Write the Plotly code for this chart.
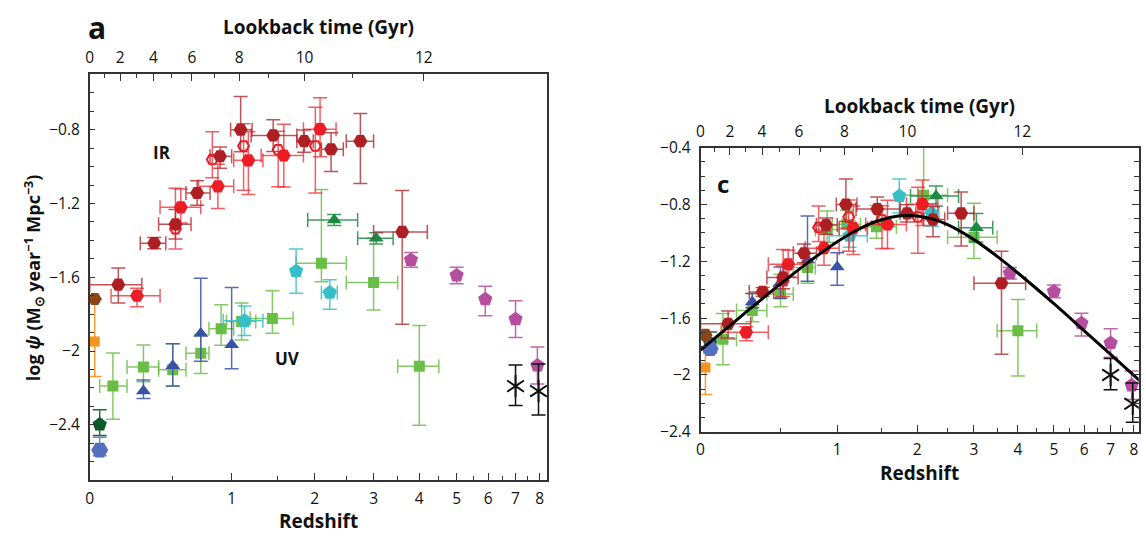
import numpy as np
import plotly.graph_objects as go

# ---------------- data (redshift z, log psi) ----------------
# IR - dark red filled hexagons
dr_z   = [0.15, 0.37, 0.52, 0.69, 0.89, 1.09, 1.45, 1.85, 2.25, 2.75, 3.6]
dr_v   = [-1.64, -1.415, -1.313, -1.143, -0.944, -0.80, -0.831, -0.862, -0.906, -0.862, -1.354]
dr_ep  = [0.09, 0.03, 0.08, 0.066, 0.05, 0.18, 0.085, 0.06, 0.09, 0.15, 0.225]
dr_em  = [0.10, 0.03, 0.08, 0.066, 0.065, 0.12, 0.087, 0.06, 0.12, 0.23, 0.50]
dr_zlo = [0.0, 0.28, 0.40, 0.60, 0.80, 0.99, 1.20, 1.75, 2.10, 2.50, 3.0]
dr_zhi = [0.29, 0.45, 0.64, 0.80, 1.00, 1.21, 1.75, 1.98, 2.45, 3.0, 4.2]

# IR - red filled hexagons
r_z   = [0.26, 0.56, 0.87, 1.17, 1.58, 2.08]
r_v   = [-1.70, -1.221, -1.107, -0.966, -0.94, -0.797]
r_ep  = [0.04, 0.10, 0.12, 0.155, 0.17, 0.17]
r_em  = [0.06, 0.085, 0.12, 0.185, 0.17, 0.15]
r_zlo = [0.11, 0.41, 0.70, 1.02, 1.31, 1.84]
r_zhi = [0.41, 0.72, 1.02, 1.33, 1.84, 2.33]

# IR - red open hexagons
hr_z  = [0.52, 0.82, 1.12, 1.51, 2.01]
hr_v  = [-1.337, -0.961, -0.888, -0.909, -0.888]
hr_ep = [0.22, 0.15, 0.12, 0.10, 0.21]
hr_em = [0.11, 0.10, 0.24, 0.20, 0.255]

# UV - light green squares (a: uncorrected, c: dust corrected)
lg_z   = [0.12, 0.30, 0.50, 0.72, 0.90, 1.10, 1.44, 2.10, 3.00, 4.00]
lg_va  = [-2.19, -2.087, -2.101, -2.012, -1.879, -1.84, -1.823, -1.524, -1.628, -2.082]
lg_vc  = [-1.748, -1.546, -1.43, -1.244, -0.975, -0.94, -0.957, -0.735, -1.03, -1.688]
lg_ep  = [0.18, 0.12, 0.14, 0.10, 0.13, 0.10, 0.15, 0.40, 0.24, 0.22]
lg_em  = [0.18, 0.08, 0.09, 0.11, 0.09, 0.10, 0.08, 0.10, 0.15, 0.32]
lg_zlo = [0.05, 0.20, 0.40, 0.60, 0.79, 0.95, 1.19, 1.74, 2.50, 3.50]
lg_zhi = [0.20, 0.40, 0.60, 0.79, 1.02, 1.25, 1.70, 2.50, 3.50, 4.50]

# UV - blue triangles
bt_z    = [0.30, 0.50, 0.72, 1.00]
bt_va   = [-2.217, -2.08, -1.905, -1.966]
bt_vc   = [-1.486, -1.35, -1.19, -1.239]
bt_ep   = [0.06, 0.12, 0.30, 0.31]
bt_em   = [0.04, 0.11, 0.15, 0.13]
bt_ep_c = [0.06, 0.11, 0.31, 0.10]
bt_em_c = [0.04, 0.11, 0.15, 0.13]

# UV - cyan pentagons
cy_z   = [1.13, 1.74, 2.23]
cy_va  = [-1.836, -1.567, -1.683]
cy_vc  = [-1.02, -0.74, -0.863]
cy_ep  = [0.08, 0.12, 0.07]
cy_em  = [0.08, 0.12, 0.09]
cy_zlo = [0.92, 1.74, 2.10]
cy_zhi = [1.33, 1.74, 2.35]

# UV - dark green triangles
dg_z    = [2.30, 3.05]
dg_va   = [-1.29, -1.389]
dg_vc   = [-0.74, -0.963]
dg_ep   = [0.03, 0.03]
dg_ep_c = [0.07, 0.10]
dg_zlo  = [1.90, 2.70]
dg_zhi  = [2.70, 3.40]

# UV - magenta pentagons
mg_z   = [3.8, 5.0, 5.9, 7.0, 7.9]
mg_va  = [-1.506, -1.59, -1.719, -1.827, -2.078]
mg_vc  = [-1.284, -1.412, -1.636, -1.775, -2.073]
mg_ep  = [0.04, 0.045, 0.07, 0.10, 0.10]
mg_em  = [0.04, 0.045, 0.09, 0.10, 0.10]

# UV - black stars
bk_z    = [7.0, 7.95]
bk_va   = [-2.19, -2.217]
bk_vc   = [-2.0, -2.203]
bk_ep   = [0.115, 0.147]
bk_em   = [0.105, 0.13]

# local points
br_z, br_v = [0.025], [-1.718]
or_z, or_v, or_ep, or_em = [0.025], [-1.948], [0.23], [0.19]
gp_z, gp_va, gp_vc, gp_ep, gp_em = [0.05], [-2.398], [-1.777], [0.08], [0.06]
bh_z, bh_va, bh_vc, bh_ep, bh_em = [0.05], [-2.537], [-1.815], [0.07], [0.03]

# best-fit curve (panel c)
fit_z = [0, 0.1, 0.25, 0.5, 0.75, 1.0, 1.25, 1.5, 1.75, 2.0, 2.25, 2.5, 3.0, 3.5, 4.0, 5.0, 6.0, 7.0, 8.0, 8.3]
fit_v = [-1.825, -1.714, -1.566, -1.359, -1.193, -1.062, -0.967, -0.907, -0.879, -0.880, -0.903,
         -0.942, -1.047, -1.165, -1.282, -1.498, -1.689, -1.855, -2.003, -2.044]

z_ticks = [0, 1, 2, 3, 4, 5, 6, 7, 8]
z_minor = [0.5, 1.5, 2.5, 3.5, 4.5, 5.5, 6.5, 7.5]
t_major = [0, 2, 4, 6, 8, 10, 12]
t_minor = [1, 3, 5, 7, 9, 11]
ya_ticks = [-0.8, -1.2, -1.6, -2.0, -2.4]
yc_ticks = [-0.4, -0.8, -1.2, -1.6, -2.0, -2.4]

# ---------------- helpers ----------------
FONT = "Open Sans"
AX = "#333333"


def lx(z):
    return np.log10(1 + np.asarray(z, dtype=float))


# lookback time -> redshift (H0=70, Om=0.3, OL=0.7)
zz = np.linspace(0, 15, 150001)
integ = 1.0 / ((1 + zz) * np.sqrt(0.3 * (1 + zz) ** 3 + 0.7))
tl = 977.8 / 70.0 * np.concatenate([[0], np.cumsum((integ[1:] + integ[:-1]) / 2 * np.diff(zz))])


def z_of_t(t):
    return np.interp(np.asarray(t, dtype=float), tl, zz)


fig = go.Figure()


def add(z, v, color, ecolor, symbol, size, xa, ya, ep=None, em=None, zlo=None, zhi=None,
        open_=False, lw=2):
    x = lx(z)
    v = np.asarray(v, dtype=float)
    kw = {}
    if ep is not None:
        kw["error_y"] = dict(type="data", symmetric=False, array=list(ep), arrayminus=list(em),
                             color=ecolor, thickness=1.5, width=7)
    if zlo is not None:
        kw["error_x"] = dict(type="data", symmetric=False, array=list(lx(zhi) - x),
                             arrayminus=list(x - lx(zlo)), color=ecolor, thickness=1.5, width=7)
    if open_:
        marker = dict(symbol=symbol, size=size, color=color, line=dict(color=color, width=lw))
    else:
        marker = dict(symbol=symbol, size=size, color=color, line=dict(width=0))
    fig.add_trace(go.Scatter(x=x, y=v, mode="markers", marker=marker, xaxis=xa, yaxis=ya,
                             showlegend=False, hoverinfo="skip", **kw))


C_DR, E_DR = "#AE1F24", "rgba(176,40,45,0.8)"
C_R, E_R = "#EE1C25", "rgba(238,40,48,0.75)"
C_LG, E_LG = "#6ABD45", "rgba(110,192,75,0.85)"
C_BT, E_BT = "#3953A4", "rgba(57,83,164,0.85)"
C_CY, E_CY = "#37BFC9", "rgba(55,191,201,0.85)"
C_DG, E_DG = "#1D8A43", "rgba(29,138,67,0.85)"
C_MG, E_MG = "#B54E9E", "rgba(181,78,158,0.85)"
C_BK, E_BK = "#111111", "#111111"
C_BR = "#8A4518"
C_OR, E_OR = "#F7941E", "rgba(247,148,30,0.9)"
C_GP, E_GP = "#0B5A2C", "rgba(11,90,44,0.9)"
C_BH, E_BH = "#5270BE", "rgba(82,112,190,0.85)"

for xa, ya, panel in (("x", "y", "a"), ("x2", "y2", "c")):
    c = panel == "c"
    add(lg_z, lg_vc if c else lg_va, C_LG, E_LG, "square", 11, xa, ya, lg_ep, lg_em, lg_zlo, lg_zhi)
    add(bt_z, bt_vc if c else bt_va, C_BT, E_BT, "triangle-up", 13, xa, ya,
        bt_ep_c if c else bt_ep, bt_em_c if c else bt_em)
    add(cy_z, cy_vc if c else cy_va, C_CY, E_CY, "pentagon", 15, xa, ya, cy_ep, cy_em, cy_zlo, cy_zhi)
    add(dg_z, dg_vc if c else dg_va, C_DG, E_DG, "triangle-up", 13, xa, ya,
        dg_ep_c if c else dg_ep, dg_ep_c if c else dg_ep, dg_zlo, dg_zhi)
    add(mg_z, mg_vc if c else mg_va, C_MG, E_MG, "pentagon", 15, xa, ya, mg_ep, mg_em)
    add(bk_z, bk_vc if c else bk_va, C_BK, E_BK, "y-up-open", 14, xa, ya, bk_ep, bk_em, open_=True, lw=2)
    add(bk_z, bk_vc if c else bk_va, C_BK, E_BK, "y-down-open", 14, xa, ya, open_=True, lw=2)
    add(or_z, or_v, C_OR, E_OR, "square", 10, xa, ya, or_ep, or_em)
    add(gp_z, gp_vc if c else gp_va, C_GP, E_GP, "pentagon", 15, xa, ya, gp_ep, gp_em)
    add(bh_z, bh_vc if c else bh_va, C_BH, E_BH, "hexagon2", 17, xa, ya, bh_ep, bh_em)
    add(br_z, br_v, C_BR, None, "hexagon2", 14, xa, ya)
    add(hr_z, hr_v, C_R, E_R, "hexagon2-open", 11, xa, ya, hr_ep, hr_em, open_=True, lw=2)
    add(r_z, r_v, C_R, E_R, "hexagon2", 14, xa, ya, r_ep, r_em, r_zlo, r_zhi)
    add(dr_z, dr_v, C_DR, E_DR, "hexagon2", 14, xa, ya, dr_ep, dr_em, dr_zlo, dr_zhi)

fig.add_trace(go.Scatter(x=lx(fit_z), y=fit_v, mode="lines", line=dict(color="black", width=3, shape="spline"),
                         xaxis="x2", yaxis="y2", showlegend=False, hoverinfo="skip"))

# dummy traces to create the extra axes
fig.add_trace(go.Scatter(x=[], y=[], xaxis="x3", yaxis="y", showlegend=False))
fig.add_trace(go.Scatter(x=[], y=[], xaxis="x4", yaxis="y2", showlegend=False))
fig.add_trace(go.Scatter(x=[], y=[], xaxis="x2", yaxis="y3", showlegend=False))

# ---------------- axes ----------------
tickfont = dict(family=FONT, size=15.5, color="#111")
XA_RANGE = [0, 0.97]
XC_RANGE = [0, 0.965]
A_DOM_X = [86 / 1146, 545 / 1146]
A_DOM_Y = [1 - 488 / 542, 1 - 65 / 542]
C_DOM_X = [699 / 1146, 1138.7 / 1146]
C_DOM_Y = [1 - 437.5 / 542, 1 - 141.5 / 542]


def xbottom(dom, rng, anchor):
    return dict(domain=dom, range=rng, anchor=anchor, showgrid=False, zeroline=False,
                showline=True, linecolor=AX, linewidth=1.5, ticks="inside", ticklen=7, tickwidth=1.3,
                tickcolor=AX, tickvals=list(lx(z_ticks)), ticktext=[str(v) for v in z_ticks],
                minor=dict(tickvals=list(lx(z_minor)), ticks="inside", ticklen=4, tickwidth=1.2, tickcolor=AX),
                tickfont=tickfont, ticklabelstandoff=3)


def xtop(over, rng, anchor):
    return dict(overlaying=over, side="top", anchor=anchor, range=rng, showgrid=False, zeroline=False,
                showline=True, linecolor=AX, linewidth=1.5, ticks="inside", ticklen=7, tickwidth=1.3,
                tickcolor=AX, tickvals=list(lx(z_of_t(t_major))), ticktext=[str(v) for v in t_major],
                minor=dict(tickvals=list(lx(z_of_t(t_minor))), ticks="inside", ticklen=4, tickwidth=1.2,
                           tickcolor=AX),
                tickfont=tickfont, ticklabelstandoff=3)


def ymin(lo, hi, majors):
    vals = np.round(np.arange(lo, hi + 1e-9, 0.1), 2)
    return [float(v) for v in vals if not any(abs(v - m) < 1e-6 for m in majors)]


fmt = lambda v: ("\u2212" + f"{abs(v):g}") if v < 0 else f"{v:g}"

fig.update_layout(
    width=1146, height=542, margin=dict(l=0, r=0, t=0, b=0),
    paper_bgcolor="white", plot_bgcolor="white",
    xaxis=xbottom(A_DOM_X, XA_RANGE, "y"),
    xaxis2=xbottom(C_DOM_X, XC_RANGE, "y2"),
    xaxis3=xtop("x", XA_RANGE, "y"),
    xaxis4=xtop("x2", XC_RANGE, "y2"),
    yaxis=dict(domain=A_DOM_Y, range=[-2.7, -0.5], anchor="x", showgrid=False, zeroline=False,
               showline=True, mirror=True, linecolor=AX, linewidth=1.5, ticks="inside", ticklen=6,
               tickwidth=1.3, tickcolor=AX, tickvals=ya_ticks, ticktext=[fmt(v) for v in ya_ticks],
               minor=dict(tickvals=ymin(-2.7, -0.5, ya_ticks), ticks="inside", ticklen=5, tickwidth=1.2,
                          tickcolor=AX),
               tickfont=tickfont, ticklabelstandoff=5),
    yaxis2=dict(domain=C_DOM_Y, range=[-2.4, -0.4], anchor="x2", showgrid=False, zeroline=False,
                showline=True, linecolor=AX, linewidth=1.5, ticks="inside", ticklen=7,
                tickwidth=1.3, tickcolor=AX, tickvals=yc_ticks, ticktext=[fmt(v) for v in yc_ticks],
                minor=dict(tickvals=ymin(-2.4, -0.4, yc_ticks), ticks="inside", ticklen=5, tickwidth=1.2,
                           tickcolor=AX),
                tickfont=tickfont, ticklabelstandoff=5),
    yaxis3=dict(overlaying="y2", side="right", anchor="x2", range=[-2.4, -0.4], showgrid=False,
                zeroline=False, showline=True, linecolor=AX, linewidth=1.5, ticks="inside", ticklen=7,
                tickwidth=1.3, tickcolor=AX, tickvals=yc_ticks, showticklabels=False,
                minor=dict(tickvals=ymin(-2.4, -0.4, yc_ticks), ticks="inside", ticklen=5, tickwidth=1.2,
                           tickcolor=AX)),
)

# ---------------- text ----------------
def ann(text, x, y, size, bold=True, angle=0):
    fig.add_annotation(text=f"<b>{text}</b>" if bold else text, x=x / 1146, y=1 - y / 542,
                       xref="paper", yref="paper", showarrow=False, xanchor="center", yanchor="middle",
                       textangle=angle, font=dict(family=FONT, size=size, color="#111"))


ann("a", 93, 16, 30)
ann("Lookback time (Gyr)", 315.5, 16, 19)
ann("Redshift", 315.5, 531, 19)
ann("log <i>\u03c8</i> (M<sub>\u2299</sub> year<sup>\u22121</sup> Mpc<sup>\u22123</sup>)", 30, 276.5, 18, angle=-90)
ann("IR", 159, 146, 17)
ann("UV", 284, 361, 17)
ann("c", 721.5, 179, 24)
ann("Lookback time (Gyr)", 918.5, 98, 19)
ann("Redshift", 918.5, 481, 19)

fig.write_html("out.html")
